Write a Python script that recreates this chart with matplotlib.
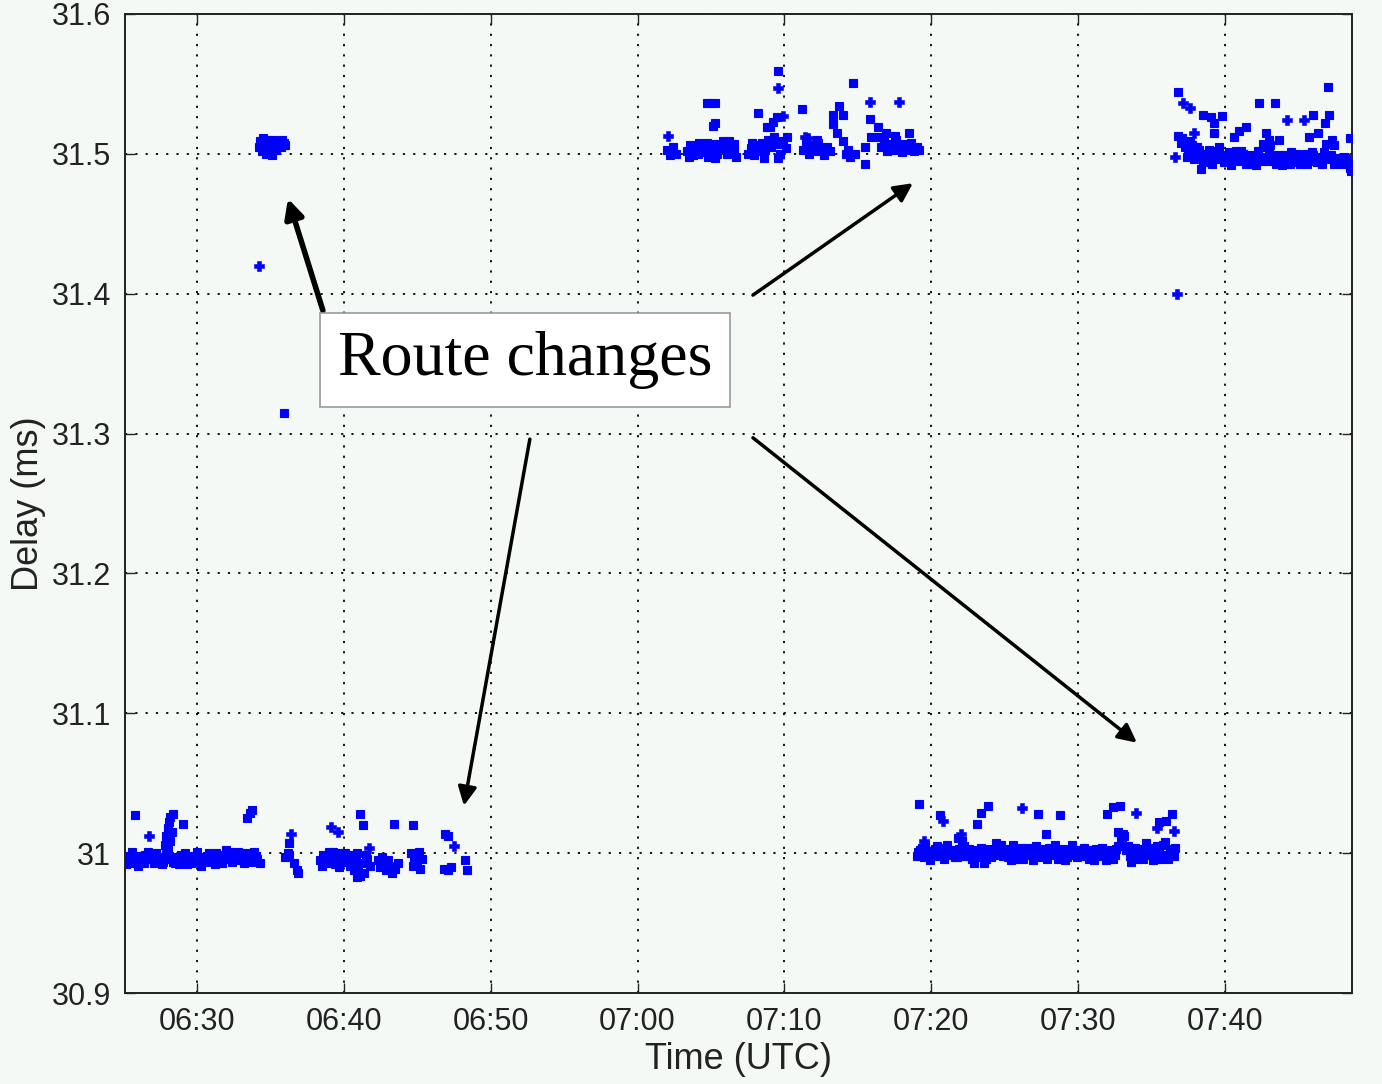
import numpy as np
import matplotlib
matplotlib.use('Agg')
import matplotlib.pyplot as plt

# time is minutes after 06:00 UTC, delay in ms
# low route, first stretch (06:25 - 06:34)
low_a = [(25.1, 30.998), (25.3, 30.995), (25.5, 30.997), (25.7, 30.993), (25.9, 30.996), (26.1, 30.998),
         (26.3, 30.994), (26.5, 30.999), (26.7, 31.001), (26.9, 30.996), (27.1, 30.993), (27.3, 30.997),
         (27.5, 30.995), (27.7, 30.994), (27.9, 30.999), (28.1, 30.998), (28.3, 30.996), (28.5, 30.993),
         (28.7, 30.997), (28.9, 30.999), (29.1, 30.995), (29.3, 30.992), (29.5, 30.996), (29.7, 30.998),
         (29.9, 30.994), (30.1, 30.997), (30.3, 30.991), (30.5, 30.995), (30.7, 30.998), (30.9, 30.994),
         (31.1, 30.996), (31.3, 31.000), (31.5, 30.997), (31.7, 30.993), (31.9, 30.999), (32.1, 30.996),
         (32.3, 31.001), (32.5, 30.998), (32.7, 30.995), (32.9, 30.997), (33.1, 31.000), (33.3, 30.996),
         (33.5, 30.998), (33.7, 30.994), (33.9, 31.001), (34.1, 30.996), (34.3, 30.993),
         (25.2, 30.992), (25.6, 31.001), (26.0, 30.991), (26.4, 30.993), (26.8, 30.998), (27.2, 31.000),
         (27.6, 30.992), (28.0, 31.002), (28.4, 30.994), (28.8, 30.992), (29.2, 31.000), (29.6, 30.993),
         (30.0, 31.001), (30.4, 30.996), (30.8, 31.000), (31.2, 30.992), (31.6, 30.994), (32.0, 31.002),
         (32.4, 30.994), (32.8, 31.001), (33.2, 30.993), (33.6, 31.000), (34.0, 30.998),
         (25.77, 31.027), (27.8, 31.006), (27.9, 31.012), (28.0, 31.018), (28.1, 31.022), (28.2, 31.026),
         (28.4, 31.028), (28.3, 31.015), (28.2, 31.009), (27.9, 31.003), (29.05, 31.021),
         (33.4, 31.025), (33.6, 31.029), (33.75, 31.031)]

# high route after first change (06:34 - 06:36)
high_b = [(34.2, 31.505), (34.3, 31.509), (34.4, 31.502), (34.5, 31.511), (34.6, 31.507), (34.7, 31.500),
          (34.8, 31.510), (34.9, 31.504), (35.0, 31.508), (35.1, 31.499), (35.2, 31.510), (35.3, 31.506),
          (35.4, 31.503), (35.5, 31.509), (35.6, 31.507), (35.7, 31.505), (35.8, 31.510), (35.9, 31.508),
          (36.0, 31.506), (35.9, 31.315)]

# low route again (06:36 - 06:48)
low_c = [(36.3, 31.007), (36.2, 31.000), (36.0, 30.997), (36.3, 30.999), (36.6, 30.993), (36.8, 30.988),
         (36.9, 30.986),
         (38.4, 30.995), (38.6, 30.999), (38.8, 30.993), (39.0, 31.001), (39.2, 30.996), (39.4, 30.992),
         (39.6, 30.998), (39.8, 31.000), (40.0, 30.994), (40.2, 30.997), (40.4, 30.991), (40.6, 30.999),
         (40.8, 30.995), (41.0, 30.989), (41.2, 30.993), (41.4, 30.986), (41.6, 30.996), (41.8, 30.991),
         (38.5, 30.991), (38.9, 30.997), (39.3, 31.001), (39.7, 30.990), (40.1, 31.000), (40.5, 30.993),
         (40.9, 31.000), (41.1, 30.984), (41.5, 30.999), (40.7, 30.988), (40.9, 30.983),
         (41.1, 31.028), (41.3, 31.020),
         (42.3, 30.995), (42.5, 30.990), (42.7, 30.993), (42.9, 30.988), (43.1, 30.991), (43.3, 30.986),
         (43.5, 30.989), (43.7, 30.993), (42.6, 30.997), (43.0, 30.995), (43.45, 31.021), (44.7, 31.020),
         (44.6, 31.000), (44.8, 30.996), (45.0, 30.992), (45.2, 30.989), (44.7, 30.991), (45.3, 30.996),
         (45.1, 31.001),
         (46.9, 31.014), (47.1, 31.012), (46.8, 30.989), (47.1, 30.988), (47.3, 30.990), (48.25, 30.995),
         (48.4, 30.988)]

# high route (07:02 - 07:19)
high_d = [(62.0, 31.503), (62.2, 31.499), (62.4, 31.505), (62.6, 31.500),
          (63.4, 31.502), (63.6, 31.506), (63.8, 31.499), (64.0, 31.504), (64.2, 31.508), (64.4, 31.501),
          (64.6, 31.505), (64.8, 31.498), (65.0, 31.503), (65.2, 31.507), (65.4, 31.500), (65.6, 31.504),
          (65.8, 31.509), (63.5, 31.498), (64.1, 31.500), (64.7, 31.508), (65.3, 31.497),
          (64.7, 31.536), (65.0, 31.536), (65.3, 31.536), (65.15, 31.520), (65.3, 31.522),
          (66.0, 31.505), (66.1, 31.500), (66.2, 31.509), (66.6, 31.502), (66.7, 31.498), (66.6, 31.507),
          (67.5, 31.500), (67.7, 31.504), (67.9, 31.499), (68.1, 31.506), (68.3, 31.502), (68.5, 31.508),
          (68.7, 31.503), (68.9, 31.510), (69.1, 31.505), (69.3, 31.512), (69.5, 31.507), (69.7, 31.500),
          (69.9, 31.509), (70.1, 31.504), (70.2, 31.512), (67.8, 31.508), (68.6, 31.497), (69.6, 31.497),
          (68.2, 31.529), (68.85, 31.519), (69.0, 31.519), (69.2, 31.523), (69.47, 31.526), (69.6, 31.559),
          (71.2, 31.532),
          (71.3, 31.503), (71.5, 31.509), (71.7, 31.500), (71.9, 31.506), (72.1, 31.502), (72.3, 31.508),
          (72.5, 31.504), (72.7, 31.499), (72.9, 31.505), (73.1, 31.502), (72.2, 31.510),
          (73.3, 31.528), (73.7, 31.534), (74.0, 31.528), (73.3, 31.521), (73.6, 31.515), (73.97, 31.509),
          (74.3, 31.503), (74.65, 31.551), (74.2, 31.500), (74.5, 31.498), (74.8, 31.500),
          (75.5, 31.505), (75.5, 31.493), (75.8, 31.525), (76.35, 31.519), (76.4, 31.512), (75.9, 31.512),
          (76.6, 31.505), (76.8, 31.509), (77.0, 31.502), (77.2, 31.507), (77.4, 31.503), (77.6, 31.510),
          (77.8, 31.505), (78.0, 31.501), (78.2, 31.507), (78.4, 31.503), (78.6, 31.508), (78.8, 31.502),
          (79.0, 31.505), (79.2, 31.503), (76.9, 31.515), (77.5, 31.513), (78.5, 31.515)]

# low route (07:19 - 07:36)
low_e = [(79.0, 30.998), (79.25, 31.002), (79.5, 30.997), (79.75, 31.001), (80.0, 30.999), (80.25, 31.003),
         (80.5, 30.998), (80.75, 31.000), (81.0, 31.004), (81.25, 30.999), (81.5, 31.002), (81.75, 30.997),
         (82.0, 31.001), (82.25, 31.005), (82.5, 31.000), (82.75, 30.996), (83.0, 31.002), (83.25, 30.998),
         (83.5, 31.001), (83.75, 30.996), (84.0, 31.003), (84.25, 30.999), (84.5, 31.002), (84.75, 31.006),
         (85.0, 31.000), (85.25, 30.997), (85.5, 31.003), (85.75, 30.999), (86.0, 31.001), (86.25, 30.996),
         (86.5, 31.004), (86.75, 31.000), (87.0, 30.998), (87.25, 31.002), (87.5, 30.997), (87.75, 31.001),
         (88.0, 31.004), (88.25, 30.999), (88.5, 31.002), (88.75, 30.998), (89.0, 31.001), (89.25, 30.997),
         (89.5, 31.003), (89.75, 30.999), (90.0, 31.002), (90.25, 30.998), (90.5, 31.001), (90.75, 30.996),
         (91.0, 31.000), (91.25, 31.003), (91.5, 30.998), (91.75, 31.001), (92.0, 30.997), (92.25, 31.002),
         (92.5, 30.999), (92.75, 31.005), (93.0, 31.008), (93.25, 31.002), (93.5, 30.998), (93.75, 31.001),
         (94.0, 30.996), (94.25, 31.003), (94.5, 30.999), (94.75, 31.004), (95.0, 31.000), (95.25, 30.997),
         (95.5, 31.002), (95.75, 31.006), (96.0, 30.999), (96.25, 31.003), (96.5, 30.998),
         (79.1, 31.001), (79.4, 31.004), (79.6, 31.006), (79.9, 30.995), (80.1, 31.001), (80.4, 31.005),
         (80.6, 31.000), (80.9, 30.996), (81.1, 31.006), (81.4, 31.001), (81.6, 30.997), (81.9, 31.003),
         (82.1, 31.009), (82.4, 30.998), (82.6, 31.003), (82.9, 30.993), (83.1, 30.997), (83.4, 31.004),
         (83.6, 30.993), (83.9, 31.001), (84.1, 30.997), (84.4, 31.007), (84.6, 31.004), (84.9, 30.998),
         (85.1, 31.003), (85.4, 30.995), (85.6, 31.006), (85.9, 30.996), (86.1, 31.004), (86.4, 30.999),
         (86.6, 31.002), (86.9, 30.995), (87.1, 31.005), (87.4, 31.000), (87.6, 31.003), (87.9, 30.996),
         (88.1, 31.000), (88.4, 31.006), (88.6, 30.996), (88.9, 31.003), (89.1, 30.995), (89.4, 31.000),
         (89.6, 31.006), (89.9, 30.997), (90.1, 30.999), (90.4, 31.004), (90.6, 30.998), (90.9, 31.002),
         (91.1, 30.995), (91.4, 31.000), (91.6, 31.004), (91.9, 30.995), (92.1, 30.999), (92.4, 30.996),
         (92.6, 31.003), (92.9, 31.010), (93.1, 31.012), (93.4, 31.005), (93.6, 30.994), (93.9, 31.004),
         (94.1, 30.999), (94.4, 30.996), (94.6, 31.007), (94.9, 31.001), (95.1, 30.995), (95.4, 31.005),
         (95.6, 30.996), (95.9, 31.008), (96.1, 30.996), (96.4, 31.000), (96.6, 31.004),
         (79.15, 31.035), (80.6, 31.027), (81.8, 31.011), (83.1, 31.021), (83.4, 31.029), (83.85, 31.034),
         (87.3, 31.028), (87.8, 31.014), (88.76, 31.027), (92.0, 31.028), (92.4, 31.033), (92.85, 31.034),
         (92.7, 31.015), (93.05, 31.014), (95.5, 31.022), (96.0, 31.023), (96.4, 31.028)]

# high route (07:36 - end)
high_f = [(97.0, 31.508), (97.25, 31.505), (97.5, 31.502), (97.75, 31.506), (98.0, 31.499), (98.25, 31.503),
          (98.5, 31.494), (98.75, 31.500), (99.0, 31.497), (99.25, 31.502), (99.5, 31.496), (99.75, 31.499),
          (100.0, 31.494), (100.25, 31.501), (100.5, 31.497), (100.75, 31.502), (101.0, 31.495), (101.25, 31.500),
          (101.5, 31.497), (101.75, 31.493), (102.0, 31.499), (102.25, 31.502), (102.5, 31.495), (102.75, 31.505),
          (103.0, 31.500), (103.25, 31.496), (103.5, 31.493), (103.75, 31.499), (104.0, 31.494), (104.25, 31.497),
          (104.5, 31.501), (104.75, 31.494), (105.0, 31.498), (105.25, 31.495), (105.5, 31.500), (105.75, 31.496),
          (106.0, 31.499), (106.25, 31.494), (106.5, 31.497), (106.75, 31.501), (107.0, 31.496), (107.25, 31.499),
          (107.5, 31.494), (107.75, 31.497), (108.0, 31.493), (108.25, 31.496), (108.5, 31.490),
          (97.1, 31.511), (97.4, 31.498), (97.6, 31.509), (97.9, 31.496), (98.1, 31.505), (98.4, 31.489),
          (98.6, 31.498), (98.9, 31.503), (99.1, 31.493), (99.4, 31.499), (99.6, 31.505), (99.9, 31.494),
          (100.1, 31.498), (100.4, 31.492), (100.6, 31.500), (100.9, 31.497), (101.1, 31.502), (101.4, 31.493),
          (101.6, 31.499), (101.9, 31.496), (102.1, 31.492), (102.4, 31.498), (102.6, 31.507), (102.9, 31.495),
          (103.1, 31.506), (103.4, 31.499), (103.6, 31.496), (103.9, 31.492), (104.1, 31.499), (104.4, 31.493),
          (104.6, 31.497), (104.9, 31.500), (105.1, 31.493), (105.4, 31.497), (105.6, 31.493), (105.9, 31.501),
          (106.1, 31.495), (106.4, 31.498), (106.6, 31.493), (106.9, 31.507), (107.1, 31.499), (107.4, 31.493),
          (107.6, 31.496), (107.9, 31.496), (108.1, 31.498), (108.4, 31.493), (108.6, 31.488),
          (96.8, 31.544), (98.5, 31.528), (99.05, 31.526), (99.25, 31.522), (99.8, 31.527), (99.25, 31.515),
          (102.3, 31.536), (103.4, 31.536), (106.0, 31.528), (107.0, 31.548), (107.1, 31.528), (108.5, 31.511),
          (100.6, 31.512), (100.96, 31.516), (101.4, 31.519), (102.8, 31.515), (103.0, 31.510), (103.7, 31.510),
          (105.7, 31.512), (106.35, 31.515), (106.8, 31.522), (107.3, 31.510), (107.4, 31.506), (96.8, 31.513)]

# samples drawn with the small plus marker
plus_pts = [(26.73, 31.012), (34.2, 31.420), (36.4, 31.014), (39.1, 31.019), (39.6, 31.015), (41.7, 31.004),
            (47.5, 31.005), (62.1, 31.513), (69.6, 31.547), (69.9, 31.527), (71.4, 31.512), (71.6, 31.511),
            (75.8, 31.537), (77.8, 31.537), (79.5, 31.009), (80.8, 31.023), (82.0, 31.014), (86.2, 31.032),
            (93.94, 31.029), (95.4, 31.018), (96.5, 31.016), (96.6, 31.498), (96.7, 31.400), (97.15, 31.536),
            (97.6, 31.533), (97.9, 31.515), (104.2, 31.524), (105.4, 31.524)]

xticks = [30, 40, 50, 60, 70, 80, 90, 100]
xticklabels = ['06:30', '06:40', '06:50', '07:00', '07:10', '07:20', '07:30', '07:40']
yticks = [30.9, 31.0, 31.1, 31.2, 31.3, 31.4, 31.5, 31.6]
yticklabels = ['30.9', '31', '31.1', '31.2', '31.3', '31.4', '31.5', '31.6']

bg = '#f4f9f6'
fig = plt.figure(figsize=(13.82, 10.84), dpi=100, facecolor=bg)
ax = fig.add_axes([0.0904, 0.0839, 0.8879, 0.9032])
ax.set_facecolor(bg)

for pts in [low_a, high_b, low_c, high_d, low_e, high_f]:
    arr = np.array(pts)
    ax.plot(arr[:, 0], arr[:, 1], linestyle='none', marker='s', ms=5.6,
            color='#0000ff', mec='#0000ff', mew=0.8, zorder=3)
arr = np.array(plus_pts)
ax.plot(arr[:, 0], arr[:, 1], linestyle='none', marker='P', ms=7.5,
        color='#0000ff', mec='#0000ff', mew=0.4, zorder=3)

ax.set_xlim(25.1, 108.65)
ax.set_ylim(30.9, 31.6)
ax.set_xticks(xticks)
ax.set_xticklabels(xticklabels)
ax.set_yticks(yticks)
ax.set_yticklabels(yticklabels)
ax.grid(True, color='black', linestyle=(0, (1.2, 4.5)), linewidth=1.3)
ax.tick_params(direction='in', length=7, width=1, top=True, right=True,
               labelsize=22, pad=10, colors='#222222')
for lab in ax.get_xticklabels() + ax.get_yticklabels():
    lab.set_family('Liberation Sans')
for sp in ax.spines.values():
    sp.set_linewidth(1.4)
    sp.set_color('#222222')

ax.set_xlabel('Time (UTC)', fontsize=26, family='Liberation Sans', color='#222222')
ax.xaxis.set_label_coords(0.5, -0.05)
ax.set_ylabel('Delay (ms)', fontsize=26, family='Liberation Sans', color='#222222')
ax.yaxis.set_label_coords(-0.064, 0.5)

# annotation box with arrows to each route change
ax.text(52.33, 31.3525, 'Route changes', fontsize=46, family='Liberation Serif',
        ha='center', va='center', zorder=5,
        bbox=dict(boxstyle='square,pad=0.28', fc='white', ec='#999999', lw=1.2))
arrows = [((38.58, 31.388), (36.2, 31.468), 4),
          ((67.86, 31.399), (78.75, 31.479), 2.5),
          ((52.67, 31.296), (48.18, 31.034), 2.5),
          ((67.86, 31.297), (94.0, 31.079), 2.5)]
for tail, head, w in arrows:
    ax.annotate('', xy=head, xytext=tail, zorder=4,
                arrowprops=dict(arrowstyle='-|>', color='black', lw=w,
                                mutation_scale=28, shrinkA=0, shrinkB=0))

fig.savefig('out.png', dpi=100, facecolor=bg)
